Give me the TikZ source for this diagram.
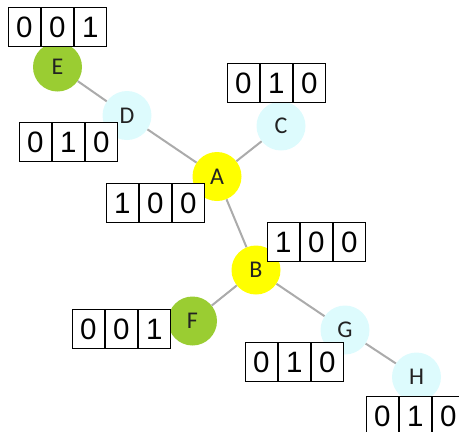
\documentclass[tikz,border=0pt]{standalone}
\usepackage{fontspec}
\newfontfamily\vertexfont{Carlito}
\newfontfamily\digitfont{Liberation Sans}
\definecolor{leafgreen}{HTML}{9ACD32}
\definecolor{palecyan}{HTML}{DDFBFD}
\definecolor{hubyellow}{HTML}{FFFF00}
\definecolor{edgegray}{HTML}{ABABAB}
\definecolor{inkgray}{HTML}{222222}
\tikzset{
  vertex/.style={circle, minimum size=49pt, inner sep=0pt,
    font=\vertexfont\fontsize{24}{24}\selectfont, text=inkgray},
  hub/.style={vertex, fill=hubyellow},
  leaf/.style={vertex, fill=leafgreen},
  mid/.style={vertex, fill=palecyan},
  link/.style={draw=edgegray, line width=2pt},
  cell/.style={draw=black, line width=0.9pt, fill=white,
    minimum width=32pt, minimum height=39pt, inner sep=0pt,
    font=\digitfont\fontsize{29.5}{29.5}\selectfont, anchor=west},
}
% three-bit code shown as a row of cells: name, top-left corner, digits
\newcommand\codebox[5]{%
  \node[cell, anchor=north west] (#1a) at (#2) {#3};
  \node[cell] (#1b) at (#1a.east) {#4};
  \node[cell] (#1c) at (#1b.east) {#5};
}
\begin{document}
\begin{tikzpicture}[x=1pt, y=-1pt]
  \useasboundingbox (0,0) rectangle (459,432);
  \clip (0,0) rectangle (459,432);

  % vertices
  \node[leaf] (E) at (57.5,67)  {E};
  \node[mid]  (D) at (127,115.5) {D};
  \node[mid]  (C) at (281,126)  {C};
  \node[hub]  (A) at (217,176.5) {A};
  \node[hub]  (B) at (256,270)  {B};
  \node[leaf] (F) at (192.5,321) {F};
  \node[mid]  (G) at (345,330)  {G};
  \node[mid]  (H) at (416.5,377) {H};

  % tree edges, running between vertex borders
  \path[link] (E) -- (D) (D) -- (A) (A) -- (C) (A) -- (B)
              (B) -- (F) (B) -- (G) (G) -- (H);

  % code labels
  \codebox{cE}{8,7}{0}{0}{1}
  \codebox{cD}{19,122}{0}{1}{0}
  \codebox{cC}{227,63}{0}{1}{0}
  \codebox{cA}{106,183}{1}{0}{0}
  \codebox{cB}{267,222}{1}{0}{0}
  \codebox{cF}{72,309}{0}{0}{1}
  \codebox{cG}{245,342}{0}{1}{0}
  \codebox{cH}{366,396}{0}{1}{0}
\end{tikzpicture}
\end{document}
